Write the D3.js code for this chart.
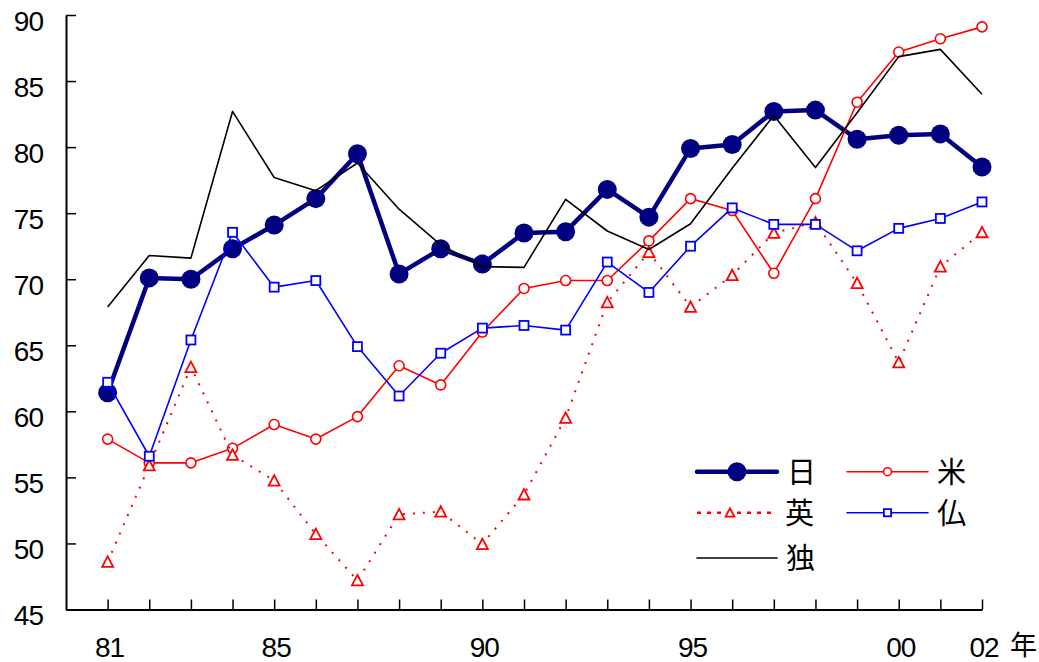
<!DOCTYPE html>
<html>
<head>
<meta charset="utf-8">
<script src="https://cdn.jsdelivr.net/npm/d3@7"></script>
<style>
  html, body { margin: 0; padding: 0; background: #fff; }
  svg { display: block; }
  .num { font-family: "Liberation Sans", Arial, sans-serif; font-size: 28px; fill: #000; letter-spacing: -1px; }
  .cjk { font-family: "Noto Sans CJK JP", sans-serif; font-size: 29px; fill: #000; }
</style>
</head>
<body>
<svg id="chart" width="1039" height="662"></svg>
<script>
// Years on the horizontal axis
const years = [1981, 1982, 1983, 1984, 1985, 1986, 1987, 1988, 1989, 1990, 1991,
               1992, 1993, 1994, 1995, 1996, 1997, 1998, 1999, 2000, 2001, 2002];
// Labelled years and their text
const labelYears = [1981, 1985, 1990, 1995, 2000, 2002];
const labelText = ["81", "85", "90", "95", "00", "02"];
const yTicks = [45, 50, 55, 60, 65, 70, 75, 80, 85, 90];

// Series values, one per year
const japan = [61.4, 70.1, 70.0, 72.3, 74.1, 76.1, 79.5, 70.4, 72.3, 71.15, 73.5,
               73.6, 76.8, 74.7, 79.9, 80.2, 82.7, 82.8, 80.6, 80.9, 81.0, 78.5];
const usa   = [57.9, 56.1, 56.1, 57.2, 59.0, 57.9, 59.6, 63.45, 62.0, 66.0, 69.3,
               69.9, 69.9, 72.9, 76.1, 75.2, 70.45, 76.1, 83.4, 87.2, 88.2, 89.1];
const uk    = [48.6, 55.9, 63.35, 56.7, 54.75, 50.7, 47.2, 52.2, 52.4, 49.95, 53.7,
               59.5, 68.25, 72.05, 67.9, 70.3, 73.5, 74.3, 69.7, 63.7, 70.95, 73.55];
const france = [62.2, 56.6, 65.4, 73.55, 69.4, 69.9, 64.9, 61.16, 64.4, 66.3, 66.5,
                66.15, 71.3, 69.0, 72.5, 75.4, 74.15, 74.15, 72.15, 73.85, 74.6, 75.85];
const germany = [67.9, 71.8, 71.6, 82.7, 77.7, 76.7, 78.8, 75.3, 72.6, 70.95, 70.9,
                 76.05, 73.65, 72.25, 74.2, 78.4, 82.4, 78.45, 82.6, 86.85, 87.4, 84.0];

const names = ["日", "米", "英", "仏", "独"];

const svg = d3.select("#chart");
const plotLeft = 66, plotRight = 982, plotTop = 15, plotBottom = 609.5;

const x = d3.scaleLinear().domain([1980, 2002]).range([plotLeft, plotRight]);
const y = d3.scaleLinear().domain([45, 90]).range([plotBottom, plotTop]);

// Axes
const yAxis = d3.axisLeft(y).tickValues(yTicks).tickSizeInner(-10).tickSizeOuter(0).tickFormat("");
const xAxis = d3.axisBottom(x).tickValues(years).tickSizeInner(-10).tickSizeOuter(0).tickFormat("");

const gy = svg.append("g").attr("transform", `translate(${plotLeft},0)`).call(yAxis);
const gx = svg.append("g").attr("transform", `translate(0,${plotBottom})`).call(xAxis);
[gy, gx].forEach(g => {
  g.select(".domain").attr("stroke", "#000").attr("stroke-width", 2);
  g.selectAll(".tick line").attr("stroke", "#000").attr("stroke-width", 1.5);
});

svg.append("g").selectAll("text").data(yTicks).join("text")
  .attr("class", "num")
  .attr("x", plotLeft - 23)
  .attr("y", d => y(d) + 15.5)
  .attr("text-anchor", "end")
  .text(d => d);

svg.append("g").selectAll("text").data(labelYears).join("text")
  .attr("class", "num")
  .attr("x", d => x(d) + 2)
  .attr("y", 657)
  .attr("text-anchor", "middle")
  .text((d, i) => labelText[i]);

svg.append("text").attr("class", "cjk")
  .attr("x", 1010).attr("y", 655)
  .style("font-size", "27px")
  .text("年");

// Series styles
const series = [
  { name: names[0], values: japan,   color: "#000080", width: 4.5, dash: null,  legendDash: null,  marker: "dot" },
  { name: names[1], values: usa,     color: "#ff0000", width: 1.6, dash: null,  legendDash: null,  marker: "circle" },
  { name: names[2], values: uk,      color: "#ff0000", width: 2,   dash: "2,8", legendDash: "4,6", marker: "triangle" },
  { name: names[3], values: france,  color: "#0000ff", width: 1.6, dash: null,  legendDash: null,  marker: "square" },
  { name: names[4], values: germany, color: "#000000", width: 1.6, dash: null,  legendDash: null,  marker: null }
];

const line = d3.line().x((d, i) => x(years[i])).y(d => y(d));

function drawMarker(g, type, color, cx, cy, scale) {
  const s = scale || 1;
  if (type === "dot") {
    g.append("circle").attr("cx", cx).attr("cy", cy).attr("r", 9.5 * s).attr("fill", color);
  } else if (type === "circle") {
    g.append("circle").attr("cx", cx).attr("cy", cy).attr("r", 5 * s)
      .attr("fill", "#fff").attr("stroke", color).attr("stroke-width", 1.6);
  } else if (type === "square") {
    const h = 4.5 * s;
    g.append("rect").attr("x", cx - h).attr("y", cy - h).attr("width", 2 * h).attr("height", 2 * h)
      .attr("fill", "#fff").attr("stroke", color).attr("stroke-width", 1.8);
  } else if (type === "triangle") {
    const w = 5.5 * s, hh = 5.5 * s;
    g.append("path")
      .attr("d", `M${cx},${cy - hh}L${cx + w},${cy + hh * 0.9}L${cx - w},${cy + hh * 0.9}Z`)
      .attr("fill", "#fff").attr("stroke", color).attr("stroke-width", 1.8)
      .attr("stroke-linejoin", "miter");
  }
}

series.forEach(s => {
  const g = svg.append("g");
  g.append("path").datum(s.values)
    .attr("d", line)
    .attr("fill", "none")
    .attr("stroke", s.color)
    .attr("stroke-width", s.width)
    .attr("stroke-linejoin", "round")
    .attr("stroke-dasharray", s.dash);
  if (s.marker) {
    s.values.forEach((v, i) => drawMarker(g, s.marker, s.color, x(years[i]), y(v)));
  }
});

// Legend
const legendPos = [
  { x1: 697, x2: 777, ty: 471.7, tx: 787 },
  { x1: 847, x2: 928, ty: 471.7, tx: 937 },
  { x1: 697, x2: 777, ty: 512.7, tx: 785 },
  { x1: 847, x2: 928, ty: 512.7, tx: 937 },
  { x1: 697, x2: 777, ty: 558,   tx: 786 }
];
const lg = svg.append("g");
series.forEach((s, i) => {
  const p = legendPos[i];
  lg.append("line").attr("x1", p.x1).attr("x2", p.x2).attr("y1", p.ty).attr("y2", p.ty)
    .attr("stroke", s.color).attr("stroke-width", s.legendDash ? 2.5 : s.width)
    .attr("stroke-linecap", s.legendDash ? "butt" : "round")
    .attr("stroke-dasharray", s.legendDash);
  if (s.marker) drawMarker(lg, s.marker, s.color, (p.x1 + p.x2) / 2 + (i === 2 ? -7 : 0), p.ty, i === 0 ? 1 : 0.8);
  lg.append("text").attr("class", "cjk")
    .attr("x", p.tx).attr("y", p.ty + 11)
    .text(s.name);
});
</script>
</body>
</html>
